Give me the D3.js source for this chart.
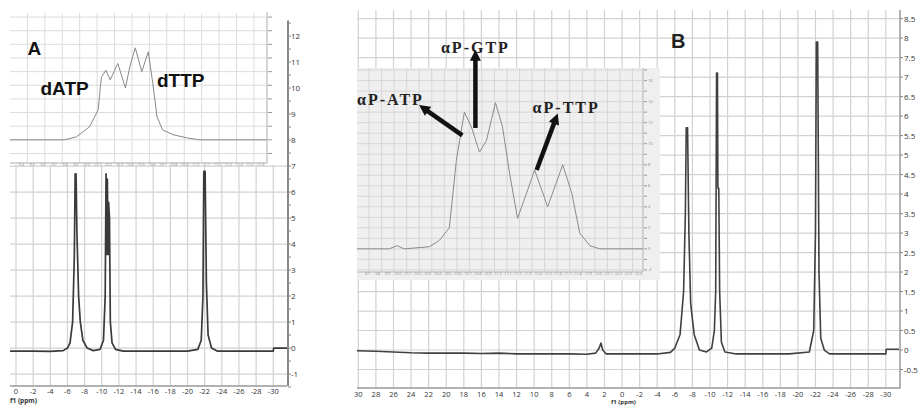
<!DOCTYPE html>
<html>
<head>
<meta charset="utf-8">
<script src="https://cdn.jsdelivr.net/npm/d3@7"></script>
<style>
  body { margin: 0; background: #fff; }
  svg { display: block; font-family: "Open Sans", "DejaVu Sans", sans-serif; }
</style>
</head>
<body>
<svg width="919" height="405"></svg>
<script>
const svg = d3.select("svg");

// ---- data ----
// panel A, full 31P spectrum: [ppm, intensity]
const spectrumA = [
  [0.7, -0.12], [-2, -0.12], [-4, -0.13], [-5.5, -0.1], [-6.0, 0.0], [-6.3, 0.2], [-6.6, 1.0],
  [-6.8, 3.5], [-6.9, 6.7], [-7.0, 6.7], [-7.1, 4.5], [-7.3, 2.0], [-7.5, 1.0], [-7.8, 0.3],
  [-8.3, 0.0], [-9.0, -0.1], [-9.8, -0.05], [-10.2, 0.3], [-10.4, 2.0], [-10.5, 6.7], [-10.6, 3.6],
  [-10.65, 6.5], [-10.75, 3.6], [-10.8, 5.6], [-10.9, 5.0], [-11.0, 1.0], [-11.2, 0.2], [-11.6, -0.05],
  [-12.5, -0.12], [-16, -0.12], [-20, -0.12], [-21.2, -0.05], [-21.6, 0.3], [-21.8, 2.0], [-21.9, 6.8],
  [-22.05, 6.8], [-22.2, 2.5], [-22.4, 0.5], [-22.8, 0.0], [-23.5, -0.12], [-27, -0.12], [-30, -0.12],
  [-30.05, 0.0], [-31.6, 0.0]
];
// panel A inset (alpha-phosphate region, zoomed)
const insetA = [
  [-9.30, 0], [-9.80, 0], [-9.91, 0.22], [-10.03, 0.95], [-10.11, 2.2], [-10.13, 3.9], [-10.14, 4.6],
  [-10.18, 5.1], [-10.22, 4.4], [-10.29, 5.6], [-10.36, 3.8], [-10.40, 5.35], [-10.45, 6.75],
  [-10.51, 5.0], [-10.57, 6.45], [-10.61, 4.2], [-10.65, 1.7], [-10.70, 0.73], [-10.80, 0.37],
  [-10.92, 0.15], [-11.04, 0], [-11.66, 0]
];
// panel B, full spectrum
const spectrumB = [
  [30.15, -0.02], [28, -0.03], [26, -0.05], [24, -0.07], [22, -0.08], [20, -0.08], [18, -0.08],
  [16, -0.09], [14, -0.08], [12, -0.1], [10, -0.1], [8, -0.1], [6, -0.1], [4, -0.11], [3, -0.08],
  [2.6, 0.05], [2.4, 0.18], [2.2, 0.0], [1.8, -0.1], [0, -0.1], [-2, -0.1], [-4, -0.1], [-5.5, -0.06],
  [-6.0, 0.05], [-6.6, 0.4], [-7.0, 1.5], [-7.2, 3.5], [-7.3, 5.7], [-7.45, 5.7], [-7.6, 3.0],
  [-7.8, 1.2], [-8.2, 0.4], [-8.8, 0.0], [-9.6, -0.05], [-10.2, 0.05], [-10.5, 0.5], [-10.65, 1.5],
  [-10.75, 7.1], [-10.85, 7.1], [-10.9, 4.15], [-11.0, 4.15], [-11.1, 1.5], [-11.3, 0.2], [-11.7, -0.05],
  [-13, -0.1], [-16, -0.1], [-19, -0.1], [-21.3, -0.05], [-21.8, 0.5], [-22.0, 3.0], [-22.1, 7.9],
  [-22.25, 7.9], [-22.4, 2.0], [-22.6, 0.3], [-23.0, 0.0], [-23.6, -0.1], [-27, -0.1], [-30, -0.1],
  [-30.05, 0.02], [-31.5, 0.02]
];
// panel B inset
const insetB = [
  [-9.60, 0], [-9.92, 0], [-10.00, 0.3], [-10.07, 0], [-10.32, 0.2], [-10.42, 0.8], [-10.52, 2.0],
  [-10.59, 8.4], [-10.64, 11.3], [-10.67, 13.0], [-10.74, 11.6], [-10.82, 9.2], [-10.89, 10.3],
  [-10.98, 13.9], [-11.05, 11.6], [-11.12, 7.2], [-11.20, 2.9], [-11.29, 5.3], [-11.37, 7.5],
  [-11.50, 4.0], [-11.65, 8.0], [-11.74, 5.3], [-11.82, 1.5], [-11.92, 0.3], [-12.02, 0], [-12.45, 0]
];
// annotations in inset B coordinates: arrow tail, arrow head, label
const annotB = [
  { name: "αP-ATP", tail: [-10.65, 10.8], head: [-10.29, 13.2], at: [-9.60, 13.7], anchor: "start" },
  { name: "αP-GTP", tail: [-10.78, 11.5], head: [-10.78, 18.1], at: [-10.78, 18.6], anchor: "middle" },
  { name: "αP-TTP", tail: [-11.39, 7.5], head: [-11.57, 12.1], at: [-11.35, 12.9], anchor: "start" }
];
const annotA = [
  { name: "A", at: [-9.46, 6.2] },
  { name: "dATP", at: [-9.58, 3.3] },
  { name: "dTTP", at: [-10.65, 3.9] }
];
const ticksAx = d3.range(0, -31, -2);
const ticksAy = d3.range(-1, 13, 1);
const ticksBx = d3.range(30, -31, -2);
const ticksBy = d3.range(-0.5, 8.51, 0.5);

// ---- scales ----
const xA = d3.scaleLinear().domain([0.7, -31.6]).range([10, 287]);
const yA = d3.scaleLinear().domain([-1.46, 12.85]).range([386, 14]);
const xAi = d3.scaleLinear().domain([-9.3, -11.66]).range([10, 267]);
const yAi = d3.scaleLinear().domain([-1.7, 9.3]).range([163, 13]);
const xB = d3.scaleLinear().domain([30.15, -31.5]).range([357, 899]);
const yB = d3.scaleLinear().domain([-0.974, 8.72]).range([388, 10]);
const xBi = d3.scaleLinear().domain([-9.6, -12.45]).range([357, 643]);
const yBi = d3.scaleLinear().domain([-2.2, 17.2]).range([272, 68]);

const fmt = d => String(+d.toFixed(1));
const gridCol = "#d2d2d2";
const sansBold = "'Liberation Sans', Arial, sans-serif";
const serifBold = "'Liberation Serif', 'Times New Roman', serif";

svg.append("defs").append("marker")
    .attr("id", "head")
    .attr("viewBox", "0 0 10 10")
    .attr("refX", 2).attr("refY", 5)
    .attr("markerUnits", "userSpaceOnUse")
    .attr("markerWidth", 12).attr("markerHeight", 11)
    .attr("orient", "auto")
  .append("path")
    .attr("d", "M0,0 L10,5 L0,10 Z")
    .attr("fill", "#111");

// ================= PANEL A =================
const gA = svg.append("g");

// main grid (below inset)
const aTop = yA(7.05);
gA.selectAll(".gvA").data(ticksAx).enter().append("line")
    .attr("x1", d => xA(d)).attr("x2", d => xA(d))
    .attr("y1", aTop).attr("y2", yA.range()[0])
    .attr("stroke", gridCol).attr("stroke-width", 1.2);
gA.selectAll(".ghA").data(ticksAy.filter(d => d <= 7)).enter().append("line")
    .attr("x1", xA.range()[0]).attr("x2", xA.range()[1])
    .attr("y1", d => yA(d)).attr("y2", d => yA(d))
    .attr("stroke", gridCol).attr("stroke-width", 1.2);
gA.append("line")
    .attr("x1", xA.range()[0]).attr("x2", xA.range()[1])
    .attr("y1", yA.range()[0]).attr("y2", yA.range()[0])
    .attr("stroke", "#999").attr("stroke-width", 1.5);

// bottom tick labels
gA.selectAll(".tA").data(ticksAx).enter().append("text")
    .attr("x", d => xA(d)).attr("y", 394)
    .attr("text-anchor", "middle")
    .attr("font-size", 7.5).attr("fill", "#333")
    .text(d => fmt(d));
gA.append("text").attr("x", 10).attr("y", 403)
    .attr("font-size", 6.5).attr("font-weight", "bold").attr("fill", "#333")
    .text("f1 (ppm)");

// right axis
gA.append("line")
    .attr("x1", 288).attr("x2", 288)
    .attr("y1", yA(12.6)).attr("y2", yA.range()[0])
    .attr("stroke", "#888").attr("stroke-width", 2);
gA.selectAll(".mA").data(d3.range(-1.5, 12.6, 0.5)).enter().append("line")
    .attr("x1", 288).attr("x2", 291)
    .attr("y1", d => yA(d)).attr("y2", d => yA(d))
    .attr("stroke", "#888").attr("stroke-width", 1);
gA.selectAll(".lA").data(ticksAy).enter().append("text")
    .attr("x", 291).attr("y", d => yA(d) + 3)
    .attr("font-size", 8).attr("fill", "#333")
    .text(d => fmt(d));

// main spectrum
const lineA = d3.line().x(d => xA(d[0])).y(d => yA(d[1]));
gA.append("path").datum(spectrumA)
    .attr("d", lineA)
    .attr("fill", "none").attr("stroke", "#3a3a3a").attr("stroke-width", 1.7)
    .attr("stroke-linejoin", "round");

// inset A
const iA = gA.append("g");
iA.append("rect")
    .attr("x", 10).attr("y", 12).attr("width", 257).attr("height", 151)
    .attr("fill", "#fff");
iA.selectAll(".igv").data(d3.range(-9.46, -11.66, -0.16)).enter().append("line")
    .attr("x1", d => xAi(d)).attr("x2", d => xAi(d))
    .attr("y1", 13).attr("y2", 163)
    .attr("stroke", "#dcdcdc").attr("stroke-width", 1);
iA.selectAll(".igh").data(d3.range(-1, 10, 1)).enter().append("line")
    .attr("x1", 10).attr("x2", 267)
    .attr("y1", d => yAi(d)).attr("y2", d => yAi(d))
    .attr("stroke", "#dcdcdc").attr("stroke-width", 1);
iA.append("path")
    .attr("d", `M267,12 V163 H10`)
    .attr("fill", "none").attr("stroke", "#aaa").attr("stroke-width", 1);
iA.selectAll(".itr").data(d3.range(-1, 10, 1)).enter().append("line")
    .attr("x1", 268).attr("x2", 272)
    .attr("y1", d => yAi(d)).attr("y2", d => yAi(d))
    .attr("stroke", "#999").attr("stroke-width", 1);
iA.selectAll(".itb").data(d3.range(-9.4, -11.61, -0.1)).enter().append("text")
    .attr("x", d => xAi(d)).attr("y", 166)
    .attr("text-anchor", "middle")
    .attr("font-size", 3.5).attr("fill", "#888")
    .text(d => d.toFixed(1));
iA.append("path").datum(insetA)
    .attr("d", d3.line().x(d => xAi(d[0])).y(d => yAi(d[1])))
    .attr("fill", "none").attr("stroke", "#888").attr("stroke-width", 1);

iA.selectAll(".labA").data(annotA).enter().append("text")
    .attr("x", d => xAi(d.at[0])).attr("y", d => yAi(d.at[1]))
    .style("font-family", sansBold)
    .attr("font-weight", "bold")
    .attr("font-size", 19)
    .attr("fill", "#111")
    .text(d => d.name);

// ================= PANEL B =================
const gB = svg.append("g");

gB.selectAll(".gvB").data(ticksBx).enter().append("line")
    .attr("x1", d => xB(d)).attr("x2", d => xB(d))
    .attr("y1", yB.range()[1]).attr("y2", yB.range()[0])
    .attr("stroke", gridCol).attr("stroke-width", 1.2);
gB.selectAll(".ghB").data(ticksBy).enter().append("line")
    .attr("x1", xB.range()[0]).attr("x2", xB.range()[1])
    .attr("y1", d => yB(d)).attr("y2", d => yB(d))
    .attr("stroke", gridCol).attr("stroke-width", 1.2);
gB.append("path")
    .attr("d", `M${xB.range()[0]},${yB.range()[0]} H900 V${yB.range()[1]}`)
    .attr("fill", "none").attr("stroke", "#999").attr("stroke-width", 1.5);

gB.selectAll(".tB").data(ticksBx).enter().append("text")
    .attr("x", d => xB(d)).attr("y", 397)
    .attr("text-anchor", "middle")
    .attr("font-size", 7.5).attr("fill", "#333")
    .text(d => fmt(d));
gB.append("text").attr("x", 611).attr("y", 404)
    .attr("font-size", 6).attr("font-weight", "bold").attr("fill", "#333")
    .text("f1 (ppm)");

gB.selectAll(".mB").data(ticksBy).enter().append("line")
    .attr("x1", 900).attr("x2", 903)
    .attr("y1", d => yB(d)).attr("y2", d => yB(d))
    .attr("stroke", "#888").attr("stroke-width", 1);
gB.selectAll(".lB").data(ticksBy).enter().append("text")
    .attr("x", 904).attr("y", d => yB(d) + 3)
    .attr("font-size", 8).attr("fill", "#333")
    .text(d => fmt(d));

const lineB = d3.line().x(d => xB(d[0])).y(d => yB(d[1]));
gB.append("path").datum(spectrumB)
    .attr("d", lineB)
    .attr("fill", "none").attr("stroke", "#404040").attr("stroke-width", 1.6)
    .attr("stroke-linejoin", "round");

gB.append("text")
    .attr("x", 671).attr("y", 48)
    .style("font-family", sansBold)
    .attr("font-weight", "bold").attr("font-size", 20)
    .attr("fill", "#222")
    .text("B");

// inset B
const iB = gB.append("g");
iB.append("rect")
    .attr("x", 357).attr("y", 68).attr("width", 303).attr("height", 212)
    .attr("fill", "#efefef");
iB.selectAll(".igvB").data(d3.range(-9.72, -12.45, -0.125)).enter().append("line")
    .attr("x1", d => xBi(d)).attr("x2", d => xBi(d))
    .attr("y1", 68).attr("y2", 272)
    .attr("stroke", "#d6d6d6").attr("stroke-width", 1);
iB.selectAll(".ighB").data(d3.range(-2, 17.1, 1)).enter().append("line")
    .attr("x1", 357).attr("x2", 643)
    .attr("y1", d => yBi(d)).attr("y2", d => yBi(d))
    .attr("stroke", "#d6d6d6").attr("stroke-width", 1);
iB.append("path")
    .attr("d", `M643,68 V272 H357`)
    .attr("fill", "none").attr("stroke", "#b5b5b5").attr("stroke-width", 1);
iB.selectAll(".itrB").data(d3.range(-2, 17.1, 1)).enter().append("line")
    .attr("x1", 644).attr("x2", 647)
    .attr("y1", d => yBi(d)).attr("y2", d => yBi(d))
    .attr("stroke", "#999").attr("stroke-width", 1);
iB.selectAll(".itlB").data(d3.range(-2, 17.1, 2)).enter().append("text")
    .attr("x", 648).attr("y", d => yBi(d) + 1.5)
    .attr("font-size", 4).attr("fill", "#888")
    .text(d => d);
iB.selectAll(".itbB").data(d3.range(-9.7, -12.41, -0.1)).enter().append("text")
    .attr("x", d => xBi(d)).attr("y", 275)
    .attr("text-anchor", "middle")
    .attr("font-size", 3.5).attr("fill", "#888")
    .text(d => d.toFixed(1));
iB.append("path").datum(insetB)
    .attr("d", d3.line().x(d => xBi(d[0])).y(d => yBi(d[1])))
    .attr("fill", "none").attr("stroke", "#8a8a8a").attr("stroke-width", 1);

// arrows and labels
iB.selectAll(".arr").data(annotB).enter().append("line")
    .attr("x1", d => xBi(d.tail[0])).attr("y1", d => yBi(d.tail[1]))
    .attr("x2", d => xBi(d.head[0])).attr("y2", d => yBi(d.head[1]))
    .attr("stroke", "#111").attr("stroke-width", 4.5)
    .attr("marker-end", "url(#head)");
iB.selectAll(".labB").data(annotB).enter().append("text")
    .attr("x", d => xBi(d.at[0])).attr("y", d => yBi(d.at[1]))
    .attr("text-anchor", d => d.anchor)
    .style("font-family", serifBold)
    .attr("font-weight", "bold").attr("font-size", 16)
    .attr("letter-spacing", 2)
    .attr("fill", "#222")
    .text(d => d.name);
</script>
</body>
</html>
